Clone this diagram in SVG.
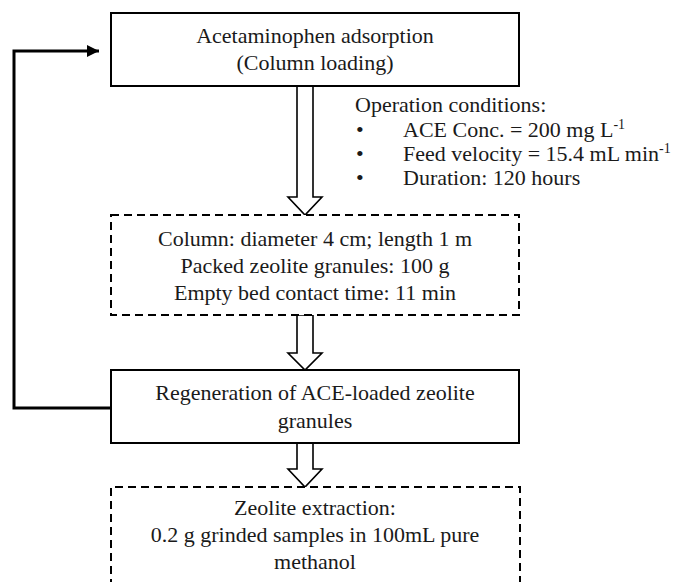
<svg xmlns="http://www.w3.org/2000/svg" width="678" height="582" viewBox="0 0 678 582">
<style>
text{font-family:'Liberation Serif','Times New Roman','DejaVu Serif',Times,serif;font-size:22px;fill:#1a1a1a}
.c{text-anchor:middle}
.box{fill:#fff;stroke:#000;stroke-width:2}
.dash{fill:#fff;stroke:#000;stroke-width:2;stroke-dasharray:8 5}
.arr{fill:#fff;stroke:#000;stroke-width:1.6;stroke-linejoin:miter}
.sup{font-size:14px}
</style>
<defs>
<marker id="ah" markerWidth="12" markerHeight="12" refX="12" refY="6" orient="auto" markerUnits="userSpaceOnUse">
<path d="M0,0 L12,6 L0,12 Z" fill="#000"/>
</marker>
</defs>
<g id="connectors">
<path d="M111,408 H14 V51 H99" fill="none" stroke="#000" stroke-width="3" marker-end="url(#ah)"/>
<polygon class="arr" points="297,86 297,197 288,197 305,215 322,197 313,197 313,86"/>
<polygon class="arr" points="297,315 297,353 288,353 305,370 322,353 313,353 313,315"/>
<polygon class="arr" points="297,443 297,469 288,469 305,487 322,469 313,469 313,443"/>
</g>
<g id="n1">
<rect class="box" x="111" y="13" width="408" height="73"/>
<text class="c" x="315" y="43">Acetaminophen adsorption</text>
<text class="c" x="315" y="70">(Column loading)</text>
</g>
<g id="conditions">
<text x="355" y="112">Operation conditions:</text>
<text x="356" y="137">•</text><text x="403" y="137">ACE Conc. = 200 mg L<tspan class="sup" dy="-8">-1</tspan></text>
<text x="356" y="161">•</text><text x="403" y="161">Feed velocity = 15.4 mL min<tspan class="sup" dy="-8">-1</tspan></text>
<text x="356" y="185">•</text><text x="403" y="185">Duration: 120 hours</text>
</g>
<g id="n2">
<rect class="dash" x="111" y="215" width="408" height="100"/>
<text class="c" x="315" y="246">Column: diameter 4 cm; length 1 m</text>
<text class="c" x="315" y="273">Packed zeolite granules: 100 g</text>
<text class="c" x="315" y="300">Empty bed contact time: 11 min</text>
</g>
<g id="n3">
<rect class="box" x="111" y="370" width="408" height="73"/>
<text class="c" x="315" y="400">Regeneration of ACE-loaded zeolite</text>
<text class="c" x="315" y="428">granules</text>
</g>
<g id="n4">
<path class="dash" d="M111,600 V487 H520 V600"/>
<text class="c" x="315" y="515">Zeolite extraction:</text>
<text class="c" x="315" y="542">0.2 g grinded samples in 100mL pure</text>
<text class="c" x="315" y="569">methanol</text>
</g>
</svg>
